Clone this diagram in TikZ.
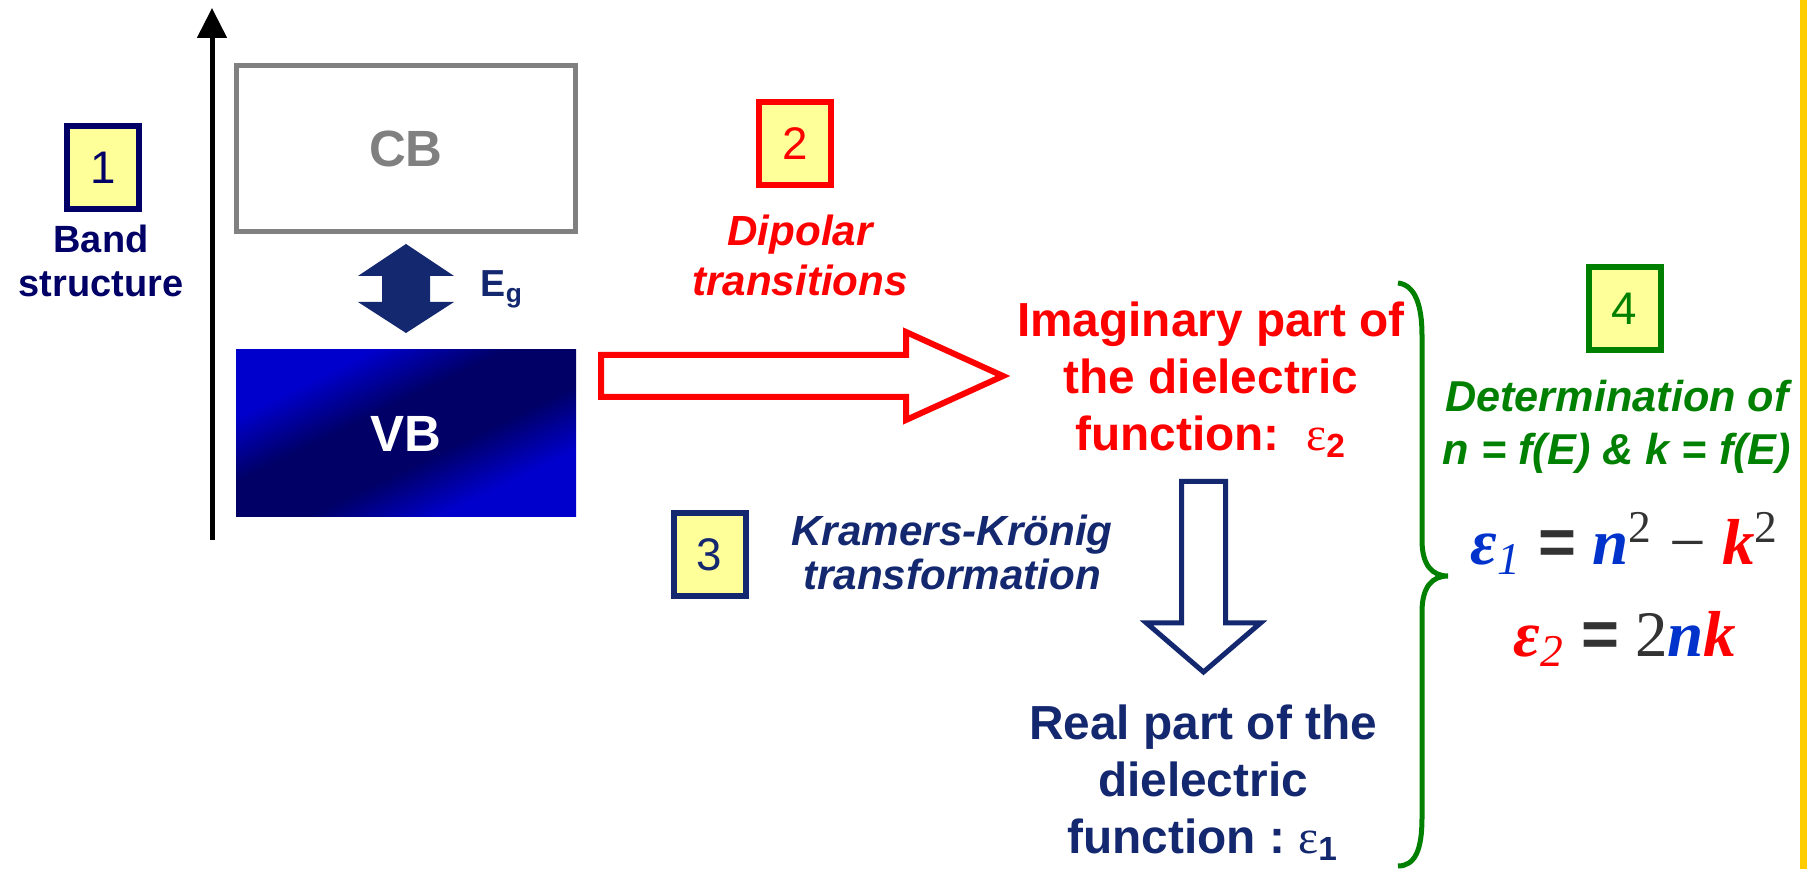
\documentclass[tikz,border=0pt]{standalone}
\usepackage{fontspec}
\setmainfont{Liberation Sans}
\newfontfamily\eqfont{Liberation Serif}
\usetikzlibrary{arrows.meta}
\definecolor{navyA}{RGB}{0,0,102}
\definecolor{navyB}{RGB}{20,40,112}
\definecolor{boxyellow}{RGB}{255,255,153}
\definecolor{cbgray}{RGB}{128,128,128}
\definecolor{vbblue}{RGB}{0,0,204}
\definecolor{vbdark}{RGB}{0,0,102}
\definecolor{darkgreen}{RGB}{0,128,0}
\definecolor{eqblue}{RGB}{0,51,204}
\definecolor{eqgray}{RGB}{51,51,51}
\definecolor{stripyellow}{RGB}{255,204,0}
\pgfdeclareverticalshading{vbshade}{100bp}{color(0bp)=(vbblue); color(30bp)=(vbblue); color(43bp)=(vbdark); color(57bp)=(vbdark); color(70bp)=(vbblue); color(100bp)=(vbblue)}

\begin{document}
\begin{tikzpicture}[x=0.1mm, y=-0.1mm,
	numbox/.style={draw, line width=0.6mm, fill=boxyellow, minimum width=7.2mm, minimum height=8.3mm, inner sep=0pt, font=\fontsize{13}{13}\selectfont},
	bigtxt/.style={anchor=north, inner sep=0pt, align=center, font=\bfseries\fontsize{13.6}{16.2}\selectfont},
	smalltxt/.style={anchor=north, inner sep=0pt, align=center, font=\bfseries\itshape\fontsize{12}{14.2}\selectfont},
	band/.style={inner sep=0pt, font=\bfseries\fontsize{14.5}{14.5}\selectfont},
	eqline/.style={anchor=base, inner sep=0pt, font=\eqfont\fontsize{18.5}{18.5}\selectfont}]
	\path[use as bounding box, fill=white] (0,0) rectangle (1807,869);
	\fill[stripyellow] (1800,0) rectangle (1807,869);
	\draw[line width=0.5mm, -{Triangle[width=2.9mm,length=3mm]}] (212,540) -- (212,8);
	\node[numbox, draw=navyA, text=navyA] (box1) at (103,167.5) {1};
	\node[anchor=north, inner sep=0pt, align=center, text=navyA, font=\bfseries\fontsize{10.8}{12.5}\selectfont] (bandlbl) at (101,224) {Band\\structure};
	\node[band, draw=cbgray, line width=0.5mm, minimum width=33.9mm, minimum height=16.6mm, text=cbgray] (cb) at (406,148.5) {CB};
	\node[band, shading=vbshade, shading angle=26, minimum width=34mm, minimum height=16.7mm, text=white] (vb) at (406,433.5) {VB};
	\fill[navyB] (406,244) -- (454,276) -- (430,276) -- (430,302) -- (454,302) -- (406,333) -- (358,302) -- (382,302) -- (382,276) -- (358,276) -- cycle;
	\node[anchor=base west, inner sep=0pt, text=navyB, font=\bfseries\fontsize{10.7}{10.7}\selectfont] (eg) at (480,297) {E\textsubscript{g}};
	\node[numbox, draw=red, text=red] (box2) at (795,143.5) {2};
	\node[smalltxt, text=red] (dipol) at (800,214) {Dipolar\\transitions};
	\draw[red, line width=0.6mm, fill=white] (601,355) -- (906,355) -- (906,332) -- (1003,376) -- (906,420) -- (906,397) -- (601,397) -- cycle;
	\node[bigtxt, text=red] (imag) at (1211,301) {Imaginary part of\\the dielectric\\function:~~{\mdseries\eqfont ε}\textsubscript{2}};
	\node[numbox, draw=navyB, text=navyB] (box3) at (709.5,554.5) {3};
	\node[smalltxt, text=navyB, font=\bfseries\itshape\fontsize{12}{12.5}\selectfont] (kk) at (952,514) {Kramers-Krönig\\transformation};
	\draw[navyB, line width=0.5mm, fill=white] (1181.5,481.5) -- (1225.5,481.5) -- (1225.5,623) -- (1260.5,623) -- (1203.5,672) -- (1146.5,623) -- (1181.5,623) -- cycle;
	\node[bigtxt, text=navyB] (real) at (1203,704) {Real part of the\\dielectric\\function :~{\mdseries\eqfont ε}\textsubscript{1}};
	\draw[darkgreen, line width=0.5mm] (1398,283) .. controls (1415,285) and (1422,305) .. (1422,335) -- (1422,540) .. controls (1422,565) and (1432,576) .. (1448,576) .. controls (1432,576) and (1422,587) .. (1422,612) -- (1422,818) .. controls (1422,850) and (1415,866) .. (1398,866);
	\node[numbox, draw=darkgreen, text=darkgreen] (box4) at (1624.5,309) {4};
	\node[smalltxt, text=darkgreen, font=\bfseries\itshape\fontsize{12.3}{15.1}\selectfont] (det) at (1617,379) {Determination of\\n = f(E) \& k = f(E)};
	\node[eqline] (eqa) at (1625,565) {\textcolor{eqblue}{\textbf{\textit{ε}}\textsubscript{\textit{1}}} \textcolor{eqgray}{\bfseries\fontspec{Liberation Sans}=} \textcolor{eqblue}{\textbf{\textit{n}}}\textcolor{eqgray}{\textsuperscript{2}} \textcolor{eqgray}{−} \textcolor{red}{\textbf{\textit{k}}}\textcolor{eqgray}{\textsuperscript{2}}};
	\node[eqline] (eqb) at (1625,657) {\textcolor{red}{\textbf{\textit{ε}}\textsubscript{\textit{2}}} \textcolor{eqgray}{\bfseries\fontspec{Liberation Sans}=} \textcolor{eqgray}{2}\textcolor{eqblue}{\textbf{\textit{n}}}\textcolor{red}{\textbf{\textit{k}}}};
\end{tikzpicture}
\end{document}
